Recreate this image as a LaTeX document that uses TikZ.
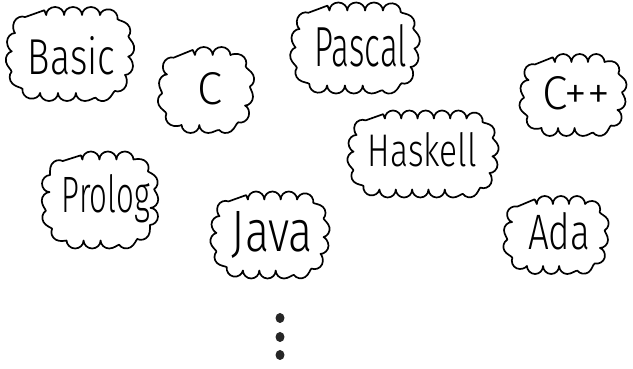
\documentclass[tikz,border=0pt]{standalone}
\usepackage{fontspec}
\setmainfont{Fira Sans Light}
\usetikzlibrary{shapes.geometric,decorations.pathmorphing}
\newcommand\cloudshape[4]{% cx, cy, w, h (base rounded rectangle)
  \pgfmathsetmacro\cloudR{0.4*min(#3,#4)}%
  \pgfmathsetmacro\cloudP{2*(#3-2*\cloudR)+2*(#4-2*\cloudR)+2*pi*\cloudR}%
  \pgfmathsetmacro\cloudS{\cloudP/round(\cloudP/34)}%
  \draw[bumpy, decoration={segment length=\cloudS pt}]
    ({#1-#3/2+\cloudR},{#2+#4/2}) -- ++({#3-2*\cloudR},0)
    arc[start angle=90,end angle=0,radius=\cloudR]
    -- ++(0,{-(#4-2*\cloudR)})
    arc[start angle=0,end angle=-90,radius=\cloudR]
    -- ++({-(#3-2*\cloudR)},0)
    arc[start angle=-90,end angle=-180,radius=\cloudR]
    -- ++(0,{#4-2*\cloudR})
    arc[start angle=180,end angle=90,radius=\cloudR] -- cycle;}
\begin{document}
\begin{tikzpicture}[x=1pt,y=1pt,
  bumpy/.style={draw=black, line width=1.7pt, line join=round, line cap=round,
     decorate, decoration={bumps, amplitude=8pt}},
  word/.style={anchor=base, inner sep=0pt, text=black},
  dotnode/.style={ellipse, fill=black!85, inner sep=0pt, minimum width=9pt, minimum height=10pt}]
\useasboundingbox (0,0) rectangle (633,369);
% clouds
\cloudshape{70}{315}{110}{78}
\cloudshape{206}{279}{78}{70}
\cloudshape{355}{321}{111}{75}
\cloudshape{573}{274}{89}{66}
\cloudshape{423}{215}{133}{71}
\cloudshape{100}{169}{100}{81}
\cloudshape{270}{134}{101}{71}
\cloudshape{556}{134}{88}{62}
% words
\node[word] (basic) at (71.5,294) {\resizebox{87pt}{38pt}{Basic}};
\node[word] (c) at (209.5,264) {\resizebox{25pt}{32pt}{C}};
\node[word] (pascal) at (361,302) {\resizebox{92pt}{42pt}{Pascal}};
\node[word] (cpp) at (576.5,259) {\resizebox{67pt}{33pt}{C++}};
\node[word] (haskell) at (422.5,202) {\resizebox{109pt}{34pt}{Haskell}};
\node[word] (prolog) at (106,156) {\resizebox{88pt}{38pt}{Prolog}};
\node[word] (java) at (272.5,117) {\resizebox{81pt}{40pt}{Java}};
\node[word] (ada) at (559,119) {\resizebox{62pt}{37pt}{Ada}};
% dots
\node[dotnode] (d1) at (280,51) {};
\node[dotnode] (d2) at (280,32) {};
\node[dotnode] (d3) at (280,14) {};
\end{tikzpicture}
\end{document}
